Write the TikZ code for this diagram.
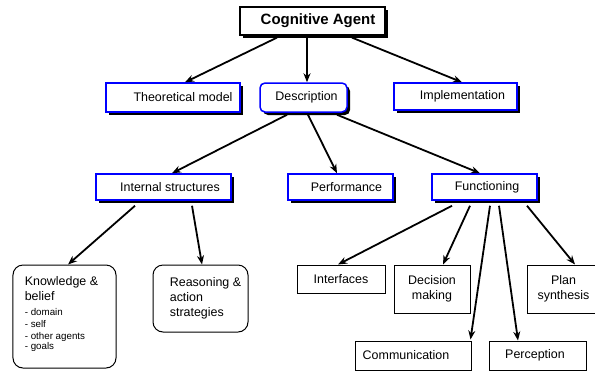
\documentclass[tikz,border=0pt]{standalone}
\usepackage{fontspec}
\setmainfont{Liberation Sans}
\usetikzlibrary{shadows,arrows.meta}
\tikzset{
  lbl/.style={font=\fontsize{12.5}{15}\selectfont, inner sep=0pt, align=center},
  topbox/.style={lbl, draw=black, line width=1.2bp, fill=white,
     drop shadow={shadow xshift=3bp, shadow yshift=-3bp, fill=black, opacity=1},
     font=\fontsize{15}{18}\selectfont\bfseries},
  bluebox/.style={lbl, draw=blue, line width=1.5bp, fill=white,
     drop shadow={shadow xshift=3bp, shadow yshift=-3bp, fill=black, opacity=1}},
  bluerbox/.style={bluebox, rounded corners=5bp},
  leafbox/.style={lbl, draw=black, line width=1bp, fill=white},
  leafrbox/.style={leafbox, rounded corners=10bp},
  arr/.style={draw=black, line width=1.8bp, -{Stealth[length=9bp,width=7bp]}}
}
\newcommand{\vlines}[1]{\vbox{\baselineskip=15bp #1}}
\begin{document}
\begin{tikzpicture}[x=1bp,y=-1bp]
\clip (0,0) rectangle (595,372);
\fill[white] (0,0) rectangle (595,372);

% top
\node[topbox, minimum width=145bp, minimum height=28bp] (ca) at (312.5,21) {\hspace{11bp}Cognitive Agent};

% level 1
\node[bluebox, minimum width=134bp, minimum height=29bp] (theo) at (173,97.5) {\hspace{20bp}Theoretical model};
\node[bluerbox, minimum width=87bp, minimum height=29bp] (desc) at (303.5,97.5) {\hspace{6bp}Description};
\node[bluebox, minimum width=123bp, minimum height=27bp] (impl) at (455.5,96.5) {\hspace{14bp}Implementation};

% level 2
\node[bluebox, minimum width=135bp, minimum height=26bp] (ints) at (163.5,187) {\hspace{13bp}Internal structures};
\node[bluebox, minimum width=105bp, minimum height=26bp] (perf) at (340.5,187) {\hspace{12bp}Performance};
\node[bluebox, minimum width=105bp, minimum height=26bp] (func) at (484.5,187) {\hspace{5bp}Functioning};

% level 3
\node[leafrbox, minimum width=103bp, minimum height=103bp] (know) at (64.5,316.5)
 {\hspace{-6bp}\vbox{\baselineskip=15bp
   \hbox{Knowledge \&}\hbox{belief}
   \fontsize{9.8}{12}\selectfont\baselineskip=15bp
   \hbox{- domain}\baselineskip=12bp\hbox{- self}\hbox{- other agents}\baselineskip=10.5bp\hbox{- goals}\vskip5bp}};
\node[leafrbox, minimum width=95bp, minimum height=67bp] (reas) at (200.5,298.5)
 {\hspace{10bp}\vlines{\hbox{Reasoning \&}\hbox{action}\hbox{strategies}}};
\node[leafbox, minimum width=88bp, minimum height=28bp] (intf) at (341,279) {Interfaces};
\node[leafbox, minimum width=76bp, minimum height=48bp] (deci) at (432,289) {Decision\\making};
\node[leafbox, minimum width=73bp, minimum height=48bp] (plan) at (563.5,289) {Plan\\synthesis};
\node[leafbox, minimum width=116bp, minimum height=29bp] (comm) at (413,355.5) {Communication\hspace{14bp}};
\node[leafbox, minimum width=97bp, minimum height=29bp] (perc) at (537.5,355.5) {Perception\hspace{5bp}};

% connectors
\draw[arr] ([xshift=-35.5bp,yshift=-2bp]ca.south) -- ([xshift=12bp]theo.north);
\draw[arr] ([xshift=-5.5bp,yshift=-2bp]ca.south) -- ([xshift=3.5bp]desc.north);
\draw[arr] ([xshift=39.5bp,yshift=-2bp]ca.south) -- ([xshift=6.5bp]impl.north);

\draw[arr] ([xshift=-16.5bp,yshift=-2bp]desc.south) -- ([xshift=8.5bp]ints.north);
\draw[arr] ([xshift=4.5bp,yshift=-2bp]desc.south) -- ([xshift=-3.5bp]perf.north);
\draw[arr] ([xshift=33.5bp,yshift=-2bp]desc.south) -- ([xshift=-4.5bp]func.north);

\draw[arr] ([xshift=-28.5bp,yshift=-5bp]ints.south) -- ([xshift=3.5bp]know.north);
\draw[arr] ([xshift=28.5bp,yshift=-5bp]ints.south) -- ([xshift=1.5bp]reas.north);

\draw[arr] ([xshift=-32.5bp,yshift=-5bp]func.south) -- ([xshift=-3bp]intf.north);
\draw[arr] ([xshift=-14.5bp,yshift=-5bp]func.south) -- ([xshift=11bp]deci.north);
\draw[arr] ([xshift=5.5bp,yshift=-5bp]func.south) -- ([xshift=-1bp,yshift=1bp]comm.north east);
\draw[arr] ([xshift=14.5bp,yshift=-5bp]func.south) -- ([xshift=-19.5bp]perc.north);
\draw[arr] ([xshift=42.5bp,yshift=-5bp]func.south) -- ([xshift=11.5bp]plan.north);
\end{tikzpicture}
\end{document}
